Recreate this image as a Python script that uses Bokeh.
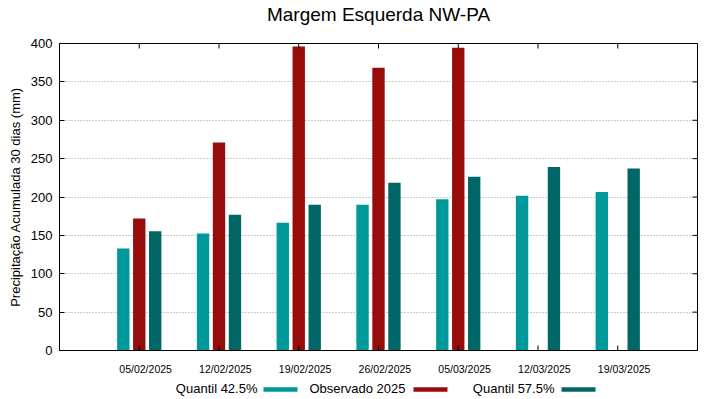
import math
from bokeh.plotting import figure
from bokeh.models import Range1d, FixedTicker, ColumnDataSource
from bokeh.layouts import column
from bokeh.transform import dodge
from bokeh.core.properties import value
from bokeh.embed import file_html
from bokeh.resources import INLINE

# ---- data ----
dates = ["05/02/2025", "12/02/2025", "19/02/2025", "26/02/2025",
         "05/03/2025", "12/03/2025", "19/03/2025"]
quantil_425 = [133, 152.5, 166.5, 190, 197, 201.5, 206.5]
observado_2025 = [172, 271, 396, 368.5, 394.5, float("nan"), float("nan")]
quantil_575 = [155.5, 177, 190, 218.5, 226.5, 239, 237]
y_ticks = [0, 50, 100, 150, 200, 250, 300, 350, 400]
legend_labels = ["Quantil 42.5%", "Observado 2025", "Quantil 57.5%"]
chart_title = "Margem Esquerda NW-PA"

C_Q1 = "#009999"
C_OBS = "#990c0c"
C_Q2 = "#006666"
FONT = "Liberation Sans"

# tick labels sit slightly right of the group centres (gnuplot look)
LAB_SHIFT = 0.08
pos = list(range(1, len(dates) + 1))
src = ColumnDataSource(dict(x=pos, date=dates, q1=quantil_425,
                            obs=observado_2025, q2=quantil_575))


def strip_fig(h):
    f = figure(frame_width=638, height=h, x_range=Range1d(59, 697),
               y_range=Range1d(0, h), output_backend="svg",
               toolbar_location=None, min_border_left=59,
               min_border_right=22, min_border_top=0, min_border_bottom=0)
    f.axis.visible = False
    f.grid.visible = False
    f.outline_line_color = None
    return f


# title row
TH = 28
tfig = strip_fig(TH)
tfig.text(x=[378], y=[TH - 13.7], text=[chart_title], text_align="center",
          text_baseline="middle", text_font=value(FONT),
          text_font_size="19px", text_color="black")

p = figure(frame_width=638, frame_height=307,
           x_range=Range1d(-LAB_SHIFT, len(dates) + 1 - LAB_SHIFT),
           y_range=Range1d(0, 400),
           output_backend="svg", toolbar_location=None,
           min_border_left=59, min_border_right=22,
           min_border_top=43 - TH, min_border_bottom=28,
           background_fill_color="white", border_fill_color="white")
p.outline_line_color = "black"
p.outline_line_width = 1

bw = 0.155
p.vbar(x=dodge("x", -0.2 - LAB_SHIFT, range=p.x_range), top="q1", width=bw,
       bottom=0, source=src, fill_color=C_Q1, line_color=None)
p.vbar(x=dodge("x", 0.0 - LAB_SHIFT, range=p.x_range), top="obs", width=bw,
       bottom=0, source=src, fill_color=C_OBS, line_color=None)
p.vbar(x=dodge("x", 0.2 - LAB_SHIFT, range=p.x_range), top="q2", width=bw,
       bottom=0, source=src, fill_color=C_Q2, line_color=None)

# grid
p.xgrid.visible = False
p.ygrid.ticker = FixedTicker(ticks=y_ticks[1:-1])
p.ygrid.grid_line_color = "#999999"
p.ygrid.grid_line_dash = "1 2"
p.ygrid.grid_line_width = 1

# left axis
ya = p.yaxis[0]
ya.ticker = FixedTicker(ticks=y_ticks)
ya.minor_tick_line_color = None
ya.major_tick_in = 5
ya.major_tick_out = 0
ya.major_label_standoff = 7
ya.major_label_text_font = FONT
ya.major_label_text_font_size = "13px"
ya.major_label_text_color = "black"
ya.axis_line_color = "black"
ya.axis_label = "Precipitação Acumulada 30 dias (mm)"
ya.axis_label_text_font = FONT
ya.axis_label_text_font_size = "13px"
ya.axis_label_text_font_style = "normal"
ya.axis_label_text_color = "black"
ya.axis_label_standoff = 5

# bottom axis: labels only
xa = p.xaxis[0]
xa.ticker = FixedTicker(ticks=pos)
xa.major_label_overrides = {k: d for k, d in zip(pos, dates)}
xa.minor_tick_line_color = None
xa.major_tick_line_color = None
xa.major_tick_in = 0
xa.major_tick_out = 0
xa.major_label_standoff = 12
xa.major_label_text_font = FONT
xa.major_label_text_font_size = "10.5px"
xa.major_label_text_color = "black"
xa.axis_line_color = "black"

# inward tick marks on bottom / top (at group centres) and right side
tick_src = ColumnDataSource(dict(x=pos))
p.ray(x=dodge("x", -LAB_SHIFT, range=p.x_range), y=0, length=5,
      length_units="screen", angle=math.pi / 2, source=tick_src,
      line_color="black", line_width=1)
p.ray(x=dodge("x", -LAB_SHIFT, range=p.x_range), y=400, length=5,
      length_units="screen", angle=-math.pi / 2, source=tick_src,
      line_color="black", line_width=1)
p.ray(x=len(dates) + 1 - LAB_SHIFT, y=y_ticks, length=5,
      length_units="screen", angle=math.pi, line_color="black", line_width=1)

# legend row (text followed by swatch, gnuplot style)
leg = strip_fig(21)
text_right = [257, 405, 554]
sw_left = [263, 413, 561]
sw_w = 34
colors = [C_Q1, C_OBS, C_Q2]
leg.text(x=text_right, y=[11.5] * 3, text=legend_labels, text_align="right",
         text_baseline="middle", text_font=value(FONT),
         text_font_size="13px", text_color="black")
leg.quad(left=sw_left, right=[s + sw_w for s in sw_left], bottom=[7.7] * 3,
         top=[12.3] * 3, fill_color=colors, line_color=None)

layout = column(tfig, p, leg, spacing=0)
open("out.html", "w").write(file_html(layout, INLINE))
